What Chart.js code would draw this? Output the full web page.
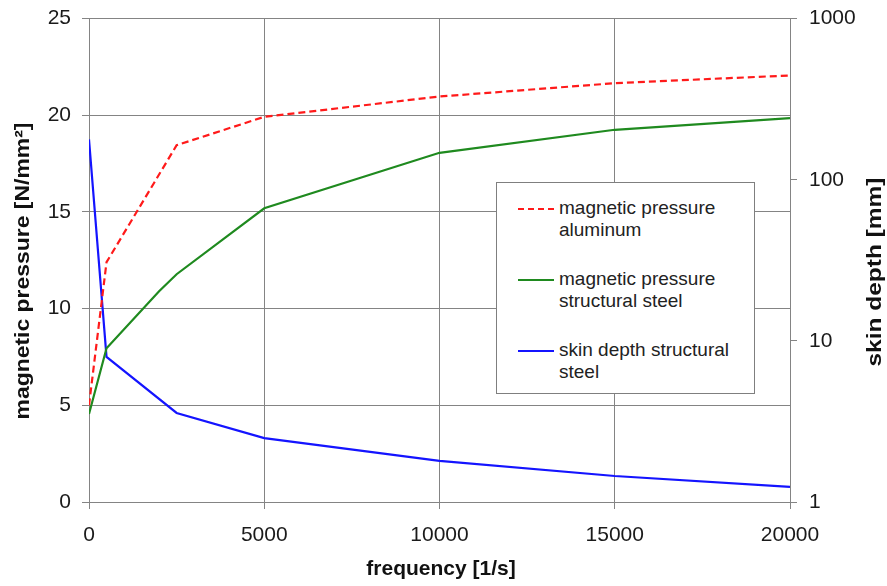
<!DOCTYPE html>
<html>
<head>
<meta charset="utf-8">
<script src="https://cdn.jsdelivr.net/npm/chart.js@4/dist/chart.umd.min.js"></script>
<style>
  html, body { margin: 0; padding: 0; background: #fff; overflow: hidden; }
  #wrap { position: relative; width: 887px; height: 586px; overflow: hidden; }
  #c { position: absolute; left: 0; top: -6px; }
  #legend {
    position: absolute; left: 496px; top: 182px; width: 259px; height: 212px;
    border: 1px solid #7f7f7f; background: #fff; box-sizing: border-box;
    font-family: "Liberation Sans", Arial, sans-serif; font-size: 19px; color: #222;
  }
  .item { position: absolute; left: 21px; }
  .sample { position: absolute; left: 0; width: 36px; top: 11px; height: 0; }
  .txt { position: absolute; left: 41px; top: 0; line-height: 22px; white-space: nowrap; }
</style>
</head>
<body>
<div id="wrap">
  <canvas id="c" width="887" height="592"></canvas>
  <div id="legend"></div>
</div>
<script>
// ---- data ----
const freqAl    = [0, 500, 2500, 5000, 10000, 15000, 20000];
const pressAl   = [5.0, 12.4, 18.45, 19.92, 20.97, 21.66, 22.06];
const freqSt    = [0, 500, 2000, 2500, 5000, 10000, 15000, 20000];
const pressSt   = [4.55, 7.95, 10.9, 11.78, 15.19, 18.06, 19.25, 19.85];
const freqSkin  = [0, 500, 2500, 5000, 10000, 15000, 20000];
const skinDepth = [178, 7.96, 3.57, 2.49, 1.80, 1.45, 1.24];
const xTicks = [0, 5000, 10000, 15000, 20000];
const yLeftTicks = [0, 5, 10, 15, 20, 25];
const yRightTicks = [1, 10, 100, 1000];
const seriesNames = [
  ["magnetic pressure", "aluminum"],
  ["magnetic pressure", "structural steel"],
  ["skin depth structural", "steel"]
];
const titles = { x: "frequency [1/s]", yLeft: "magnetic pressure [N/mm²]", yRight: "skin depth [mm]" };

const RED = "#ff1a1a", GREEN = "#1f8a1f", BLUE = "#1414ff";
const GRID = "#848484";
const FONT = "'Liberation Sans', Arial, sans-serif";
const SHIFT = 6; // canvas is shifted up by this many pixels

function pts(xs, ys) { return xs.map((x, i) => ({ x: x, y: ys[i] })); }

const titlePlugin = {
  id: "titles",
  afterDraw(chart) {
    const ctx = chart.ctx;
    ctx.save();
    ctx.fillStyle = "#111";
    ctx.textAlign = "center";
    ctx.textBaseline = "middle";
    ctx.font = "bold 21px " + FONT;
    ctx.fillText(titles.x, 441, 569 + SHIFT);
    // left
    ctx.save();
    ctx.translate(23, 271 + SHIFT);
    ctx.rotate(-Math.PI / 2);
    let w = ctx.measureText(titles.yLeft).width;
    ctx.scale(297 / w, 1);
    ctx.fillText(titles.yLeft, 0, 0);
    ctx.restore();
    // right
    ctx.save();
    ctx.translate(875, 272 + SHIFT);
    ctx.rotate(-Math.PI / 2);
    w = ctx.measureText(titles.yRight).width;
    ctx.scale(189 / w, 1);
    ctx.fillText(titles.yRight, 0, 0);
    ctx.restore();
    ctx.restore();
  }
};

new Chart(document.getElementById("c"), {
  type: "line",
  data: {
    datasets: [
      { label: seriesNames[0].join(" "), data: pts(freqAl, pressAl), yAxisID: "y",
        borderColor: RED, borderWidth: 2.2, borderDash: [7, 4], pointRadius: 0, tension: 0 },
      { label: seriesNames[1].join(" "), data: pts(freqSt, pressSt), yAxisID: "y",
        borderColor: GREEN, borderWidth: 2.2, pointRadius: 0, tension: 0 },
      { label: seriesNames[2].join(" "), data: pts(freqSkin, skinDepth), yAxisID: "y2",
        borderColor: BLUE, borderWidth: 2.2, pointRadius: 0, tension: 0 }
    ]
  },
  options: {
    responsive: false,
    animation: false,
    layout: { padding: { top: 12, left: 0, right: 0, bottom: 0 } },
    plugins: { legend: { display: false }, tooltip: { enabled: false } },
    scales: {
      x: {
        type: "linear", min: 0, max: 20000,
        afterBuildTicks(s) { s.ticks = xTicks.map(v => ({ value: v })); },
        afterFit(s) { s.height = 84; },
        grid: { color: GRID, lineWidth: 1, tickLength: 7, drawTicks: true },
        border: { color: GRID, width: 1 },
        ticks: { color: "#1a1a1a", font: { family: FONT, size: 21 }, padding: 14, maxRotation: 0,
                 callback: v => String(v) }
      },
      y: {
        type: "linear", position: "left", min: 0, max: 25,
        afterBuildTicks(s) { s.ticks = yLeftTicks.map(v => ({ value: v })); },
        afterFit(s) { s.width = 89; },
        grid: { color: GRID, lineWidth: 1, tickLength: 7 },
        border: { color: GRID, width: 1 },
        ticks: { color: "#1a1a1a", font: { family: FONT, size: 21 }, padding: 11, callback: v => String(v) }
      },
      y2: {
        type: "logarithmic", position: "right", min: 1, max: 1000,
        afterBuildTicks(s) { s.ticks = yRightTicks.map(v => ({ value: v })); },
        afterFit(s) { s.width = 97; },
        grid: { drawOnChartArea: false, color: GRID, lineWidth: 1, tickLength: 7 },
        border: { color: GRID, width: 1 },
        ticks: { color: "#1a1a1a", font: { family: FONT, size: 21 }, padding: 12, callback: v => String(v) }
      }
    }
  },
  plugins: [titlePlugin]
});

// HTML legend built from series names
const legend = document.getElementById("legend");
const styles = [
  "border-top: 2px dashed " + RED,
  "border-top: 2px solid " + GREEN,
  "border-top: 2px solid " + BLUE
];
seriesNames.forEach((lines, i) => {
  const it = document.createElement("div");
  it.className = "item";
  it.style.top = (14 + i * 71) + "px";
  const s = document.createElement("div");
  s.className = "sample";
  s.setAttribute("style", styles[i]);
  const t = document.createElement("div");
  t.className = "txt";
  t.innerHTML = lines.join("<br>");
  it.appendChild(s); it.appendChild(t);
  legend.appendChild(it);
});
</script>
</body>
</html>
